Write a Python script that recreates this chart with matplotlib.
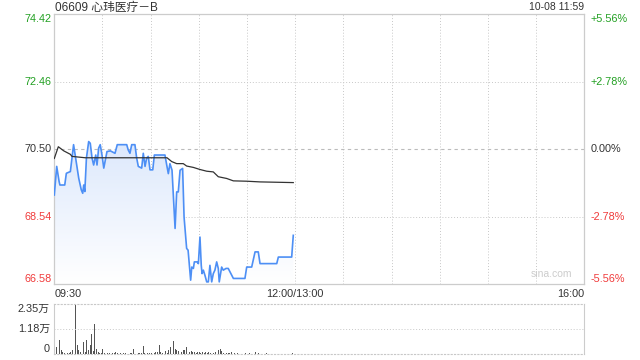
import numpy as np
import matplotlib
matplotlib.use("Agg")
import matplotlib.pyplot as plt
from matplotlib.colors import LinearSegmentedColormap

CJK = ["Liberation Sans", "Noto Sans CJK SC", "DejaVu Sans"]
plt.rcParams["font.family"] = CJK

TITLE = "06609 心玮医疗－B"
STAMP = "10-08 11:59"

# minutes since 09:30 (trading minutes, lunch removed) and prices
price_min = [0, 1.5, 3, 3.5, 6.5, 7.5, 10, 12, 13, 15.2, 16.8, 17.7, 18.3, 19,
             20, 21.4, 22.4, 23.5, 24.5, 25.8, 26.6, 27.6, 28.6, 29.7, 30.8,
             32.8, 34.9, 37.8, 39.2, 45.1, 46, 47.1, 48.2, 50.2, 51.3, 52.3,
             54.4, 55.4, 56.5, 57.5, 58.5, 59.6, 61.3, 62.3, 63.7, 68.9, 70,
             71, 72, 73.3, 75.2, 76.2, 77.2, 78.3, 79.9, 80.8, 82.4, 83.3, 84.9,
             85.6, 86.6, 87.2, 88.9, 89.7, 90.7, 91.5, 92, 92.8, 93.8, 94.9,
             95.9, 96.9, 98, 99, 100, 101.1, 102.1, 102.7, 104.2, 105.2, 106.9,
             108.3, 109.4, 111.5, 118.7, 119.8, 122.9, 125, 127, 128.1, 138.5,
             139.5, 147.8, 148.8]
prices = [69.17, 70.00, 69.56, 69.46, 69.46, 69.80, 69.85, 70.63, 70.33, 69.66,
          69.32, 69.22, 69.46, 69.27, 70.24, 70.72, 70.67, 70.24, 70.04, 70.33,
          70.04, 70.53, 70.63, 70.33, 69.95, 70.43, 70.45, 70.38, 70.63, 70.63,
          70.48, 70.38, 70.63, 70.63, 70.24, 70.00, 69.95, 70.38, 70.00, 70.24,
          70.29, 69.90, 69.90, 70.33, 70.33, 70.33, 70.04, 69.79, 70.08, 69.89,
          68.20, 69.26, 69.26, 69.89, 69.94, 68.53, 67.62, 67.57, 66.70, 67.08,
          67.04, 67.23, 67.23, 67.18, 67.95, 67.13, 66.89, 66.99, 66.84, 66.65,
          66.65, 67.13, 66.65, 66.89, 66.99, 67.23, 67.04, 66.65, 67.08, 66.99,
          67.04, 67.04, 66.94, 66.75, 66.75, 67.08, 67.08, 67.52, 67.52, 67.18,
          67.18, 67.37, 67.37, 68.00]

avg_min = [0, 2.5, 5.9, 10, 11, 19.3, 70.2, 73.1, 76.2, 80.3, 82.4, 86.6, 90.7,
           94.9, 99, 102.1, 107.3, 111.5, 119.8, 128.1, 148.8]
avg_price = [70.23, 70.57, 70.45, 70.35, 70.29, 70.25, 70.25, 70.14, 70.08,
             70.08, 70.01, 69.97, 69.91, 69.86, 69.84, 69.70, 69.65, 69.58,
             69.57, 69.55, 69.53]

# volume per minute, shares
volume = [2700, 3500, 1500, 6700, 1800, 1100, 600, 300, 600, 400,
          1100, 1800, 3500, 23500, 4300, 1800, 1100, 500, 5900, 1200,
          6700, 2000, 4300, 9400, 1500, 14400, 2700, 1100, 600, 800,
          2700, 400, 300, 500, 600, 400, 500, 700, 900, 500,
          400, 600, 300, 500, 400, 600, 300, 400, 700, 2700,
          500, 300, 600, 700, 400, 3800, 500, 300, 400, 700,
          600, 300, 500, 1200, 900, 4300, 900, 600, 500, 1500,
          800, 2000, 3500, 5400, 6200, 2700, 1800, 1500, 1500, 1300,
          1800, 1800, 3500, 1800, 1200, 1500, 900, 1300, 600, 1000,
          1300, 700, 1000, 600, 1300, 400, 900, 500, 300, 500,
          1000, 5900, 2000, 2700, 1500, 800, 1100, 600, 400, 800,
          1000, 1800, 500, 300, 400, 300, 200, 300, 200, 500,
          300, 400, 200, 300, 300, 1000, 300, 400, 200, 300,
          200, 300, 400, 200, 300, 200, 300, 200, 300, 400,
          200, 300, 200, 300, 200, 300, 300, 200, 400, 300]

price_ticks = [74.42, 72.46, 70.50, 68.54, 66.58]
pct_labels = ["+5.56%", "+2.78%", "0.00%", "-2.78%", "-5.56%"]
vol_ticks = [23500, 11750, 0]
vol_labels = ["2.35万", "1.18万", "0"]

GREEN = "#22a022"
RED = "#f03a3a"
DARK = "#333333"
GRID = "#c8c8c8"
colors = [GREEN, GREEN, DARK, RED, RED]
FS = 7.8

fig = plt.figure(figsize=(6.4, 3.6), dpi=100)
ax = fig.add_axes([54.3 / 640, 1 - 284.3 / 360, 530 / 640, 270.3 / 360])
vax = fig.add_axes([54.3 / 640, 1 - 354.3 / 360, 530 / 640, 50 / 360])

lo, hi = price_ticks[-1], price_ticks[0]

# gradient under the price line
poly = ax.fill_between(price_min, prices, lo, color="none", lw=0)
grad = np.linspace(0, 1, 256).reshape(-1, 1)
cmap = LinearSegmentedColormap.from_list("fade", ["#ffffff", "#dce8fc"])
im = ax.imshow(grad, extent=[0, 330, lo, 70.8], origin="lower", cmap=cmap,
               aspect="auto", zorder=1)
im.set_clip_path(poly.get_paths()[0], transform=ax.transData)

ax.plot(price_min, prices, color="#4d8ff5", lw=1.2, zorder=3)
ax.plot(avg_min, avg_price, color=DARK, lw=0.9, zorder=4)

ax.set_xlim(0, 330)
ax.set_ylim(lo, hi)
ax.set_xticks([])
ax.set_yticks([])
for s in ax.spines.values():
    s.set_color("#cccccc")
    s.set_linewidth(0.9)

for t in range(30, 330, 30):
    ax.axvline(t, color=GRID, lw=0.7, ls=(0, (1, 2)), zorder=0)
for p in price_ticks[1:-1]:
    if p == 70.50:
        ax.axhline(p, color="#bbbbbb", lw=0.8, ls=(0, (3, 3)), zorder=0)
    else:
        ax.axhline(p, color=GRID, lw=0.7, ls=(0, (1, 2)), zorder=0)

# axis labels, drawn as text so the end labels sit inside
ytr = ax.get_yaxis_transform()
for i, p in enumerate(price_ticks):
    va = "top" if i == 0 else ("bottom" if i == len(price_ticks) - 1 else "center")
    ax.text(-0.005, p, f"{p:.2f}", transform=ytr, ha="right", va=va,
            color=colors[i], fontsize=FS)
    ax.text(1.012, p, pct_labels[i], transform=ytr, ha="left", va=va,
            color=colors[i], fontsize=FS)

xtr = ax.get_xaxis_transform()
ax.text(0, -0.035, "09:30", transform=xtr, ha="left", va="center", fontsize=FS, color=DARK)
ax.text(150, -0.035, "12:00/13:00", transform=xtr, ha="center", va="center", fontsize=FS, color=DARK)
ax.text(330, -0.035, "16:00", transform=xtr, ha="right", va="center", fontsize=FS, color=DARK)

fig.text(55 / 640, 1 - 7.5 / 360, TITLE, ha="left", va="center",
         fontsize=8.5, color=DARK)
fig.text(584 / 640, 1 - 7.5 / 360, STAMP, ha="right", va="center",
         fontsize=7.5, color=DARK)
ax.text(0.978, 0.02, "sina.com", transform=ax.transAxes, ha="right", va="bottom",
        fontsize=7.5, color="#cccccc")

# volume panel
vax.bar(range(len(volume)), volume, width=0.55, color="#555555", align="edge")
vax.set_xlim(0, 330)
vax.set_ylim(0, vol_ticks[0])
vax.set_xticks([])
vax.set_yticks([])
for k in ("left", "right"):
    vax.spines[k].set_color("#cccccc")
for k in ("top", "bottom"):
    vax.spines[k].set_color(GRID)
    vax.spines[k].set_linestyle((0, (1, 2)))
vax.axhline(vol_ticks[1], color=GRID, lw=0.7, ls=(0, (1, 2)))

vtr = vax.get_yaxis_transform()
for i, v in enumerate(vol_ticks):
    va = "top" if i == 0 else ("bottom" if i == len(vol_ticks) - 1 else "center")
    vax.text(-0.008, v, vol_labels[i], transform=vtr, ha="right", va=va,
             fontsize=FS, color=DARK)

fig.savefig("out.png", dpi=100)
